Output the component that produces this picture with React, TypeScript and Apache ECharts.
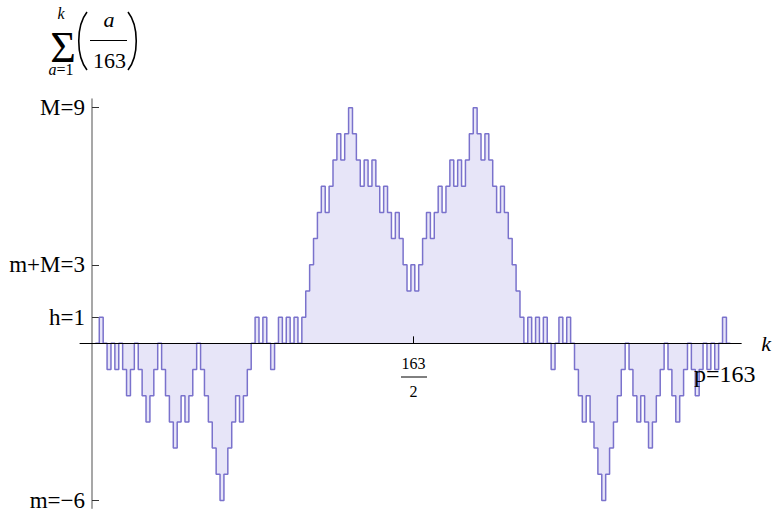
import React, { useEffect, useRef } from "react";
import * as echarts from "echarts";

// Partial sums S(k) = sum_{a=1}^{k} (a/163), k = 0..163 (index = k)
const partialSums: number[] = [
  0, 1, 0, -1, 0, -1, 0, -1, -2, -1, 0,
  -1, -2, -3, -2, -1, 0, -1, -2, -3, -4,
  -3, -2, -3, -2, -1, 0, -1, -2, -3, -4,
  -5, -6, -5, -4, -3, -2, -3, -2, -1, 0,
  1, 0, 1, 0, -1, 0, 1, 0, 1, 0,
  1, 0, 1, 2, 3, 4, 5, 6, 5, 6,
  7, 8, 7, 8, 9, 8, 7, 6, 7, 6,
  7, 6, 5, 6, 5, 4, 5, 4, 3, 2,
  3,
  2, 3, 4, 5, 4, 5, 6, 5, 6, 7,
  6, 7, 6, 7, 8, 9, 8, 7, 8, 7,
  6, 5, 6, 5, 4, 3, 2, 1, 0, 1,
  0, 1, 0, 1, 0, -1, 0, 1, 0, 1,
  0, -1, -2, -3, -2, -3, -4, -5, -6, -5,
  -4, -3, -2, -1, 0, -1, -2, -3, -2, -3,
  -4, -3, -2, -1, 0, -1, -2, -3, -2, -1,
  0, -1, -2, -1, 0, -1, 0, -1, 0, 1,
  0,
  0,
];

const yTickValues: number[] = [9, 3, 1, -6];
const yTickLabels: string[] = ["M=9", "m+M=3", "h=1", "m=\u22126"];
const xTickValues: number[] = [81.5];

const SERIF = "Liberation Serif";

export default function App() {
  const ref = useRef<HTMLDivElement>(null);
  useEffect(() => {
    if (!ref.current) return;
    const chart = echarts.init(ref.current, null, { renderer: "svg" });
    const data = partialSums.map((v, k) => [k, v]);
    const txt = (size: number, italic = false) => ({
      fontFamily: SERIF,
      fontSize: size,
      fontStyle: italic ? "italic" : "normal",
      fill: "#000",
    });
    chart.setOption({
      animation: false,
      grid: { left: 80, right: 32, top: 99, bottom: 2, containLabel: false },
      xAxis: {
        type: "value",
        min: -3.95,
        max: 165.8,
        z: 5,
        axisLine: { show: true, onZero: true, lineStyle: { color: "#000", width: 1 } },
        axisTick: { show: true, inside: true, length: 7, customValues: xTickValues, lineStyle: { color: "#000", width: 1 } },
        axisLabel: { show: false },
        splitLine: { show: false },
        name: "k",
        nameLocation: "end",
        nameGap: 20,
        nameTextStyle: { fontFamily: SERIF, fontStyle: "italic", fontSize: 22, color: "#000", padding: [0, 0, 8, 0] },
      },
      yAxis: {
        type: "value",
        min: -6.3,
        max: 9.33,
        offset: -12,
        axisLine: { show: true, onZero: false, lineStyle: { color: "#8a8a8a", width: 1.5 } },
        axisTick: { show: true, inside: true, length: 7, customValues: yTickValues, lineStyle: { color: "#333", width: 1 } },
        axisLabel: {
          show: true,
          customValues: yTickValues,
          formatter: (v: number) => {
            const i = yTickValues.indexOf(v);
            return i >= 0 ? yTickLabels[i] : "";
          },
          fontFamily: SERIF,
          fontSize: 23,
          color: "#000",
          margin: 7,
        },
        splitLine: { show: false },
      },
      series: [
        {
          type: "line",
          data,
          step: "end",
          symbol: "none",
          z: 2,
          lineStyle: { color: "#7a72cc", width: 1.5 },
          areaStyle: { color: "#e7e5f8", opacity: 1 },
        },
      ],
      graphic: [
        // Formula: sum_{a=1}^{k} (a/163)
        { type: "text", x: 63, y: 47, style: { text: "\u03A3", ...txt(44), align: "center", verticalAlign: "middle" } },
        { type: "text", x: 61, y: 13, style: { text: "k", ...txt(16, true), align: "center", verticalAlign: "middle" } },
        {
          type: "text",
          x: 61,
          y: 69,
          style: {
            text: "{i|a}=1",
            ...txt(16),
            align: "center",
            verticalAlign: "middle",
            rich: { i: { fontStyle: "italic", fontSize: 16, fontFamily: SERIF } },
          },
        },
        { type: "bezierCurve", shape: { x1: 87, y1: 12, cpx1: 76, cpy1: 26, cpx2: 76, cpy2: 56, x2: 87, y2: 70 }, style: { stroke: "#000", lineWidth: 1.6, fill: "none" } },
        { type: "bezierCurve", shape: { x1: 128, y1: 12, cpx1: 139, cpy1: 26, cpx2: 139, cpy2: 56, x2: 128, y2: 70 }, style: { stroke: "#000", lineWidth: 1.6, fill: "none" } },
        { type: "text", x: 109, y: 19, style: { text: "a", ...txt(22, true), align: "center", verticalAlign: "middle" } },
        { type: "line", shape: { x1: 90, y1: 40.5, x2: 127, y2: 40.5 }, style: { stroke: "#000", lineWidth: 1 } },
        { type: "text", x: 109.5, y: 60, style: { text: "163", ...txt(22), align: "center", verticalAlign: "middle" } },
        // x tick label 163/2
        { type: "text", x: 413.5, y: 363, style: { text: "163", ...txt(16), align: "center", verticalAlign: "middle" } },
        { type: "line", shape: { x1: 401, y1: 377, x2: 427, y2: 377 }, style: { stroke: "#000", lineWidth: 1 } },
        { type: "text", x: 413.5, y: 391, style: { text: "2", ...txt(16), align: "center", verticalAlign: "middle" } },
        // p = 163
        { type: "text", z: 20, x: 694, y: 374, style: { text: "p=163", ...txt(24), align: "left", verticalAlign: "middle" } },
      ],
    });
    return () => chart.dispose();
  }, []);
  return (
    <div
      ref={ref}
      style={{ position: "fixed", left: 0, top: 0, width: 774, height: 512, background: "#fff" }}
    />
  );
}
